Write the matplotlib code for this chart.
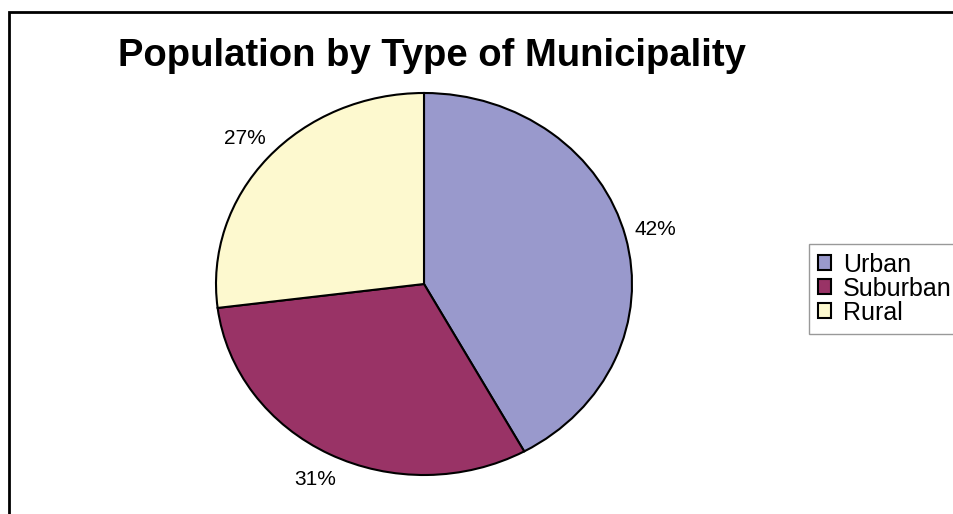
import matplotlib
matplotlib.use('Agg')
import matplotlib.pyplot as plt
from matplotlib.patches import Rectangle

# population share by municipality type (percent)
categories = ['Urban', 'Suburban', 'Rural']
shares = [42, 31, 27]
colors = ['#9999CC', '#993366', '#FDF9CF']

plt.rcParams['font.family'] = ['Liberation Sans', 'DejaVu Sans']

W, H = 954, 514
fig = plt.figure(figsize=(W / 100, H / 100), dpi=100)

# pie is drawn slightly squashed vertically, so the axes box sets the shape
left, right, top, bottom = 216, 632, 93, 475
ax = fig.add_axes([left / W, 1 - bottom / H, (right - left) / W, (bottom - top) / H])

wedges, texts, autotexts = ax.pie(
    shares, colors=colors, startangle=90, counterclock=False,
    autopct='%1.0f%%', pctdistance=1.15,
    wedgeprops=dict(edgecolor='black', linewidth=1.5),
    textprops=dict(fontsize=15, color='black'),
)
ax.set_aspect('auto')
ax.set_xlim(-1, 1)
ax.set_ylim(-1, 1)
for t in autotexts:
    t.set_clip_on(False)

fig.text(432 / W, 1 - 56 / H, 'Population by Type of Municipality',
         ha='center', va='center', fontsize=27.5, fontweight='bold')

leg = fig.legend(wedges, categories, loc='upper left',
                 bbox_to_anchor=(809 / W, 1 - 244 / H), bbox_transform=fig.transFigure,
                 borderaxespad=0, fontsize=18, frameon=True, fancybox=False,
                 edgecolor='#808080', handlelength=0.55, handleheight=0.55,
                 handletextpad=0.45, borderpad=0.35, labelspacing=0.0)
leg.get_frame().set_linewidth(1.0)
for h in leg.legend_handles:
    h.set_linewidth(1.5)

# outer chart border, running off the right and bottom edges
fig.patches.append(Rectangle((9 / W, -0.1), 1.2, 1 - 11.5 / H + 0.1,
                             transform=fig.transFigure, fill=False,
                             edgecolor='black', linewidth=2))

fig.savefig('out.png', dpi=100)
